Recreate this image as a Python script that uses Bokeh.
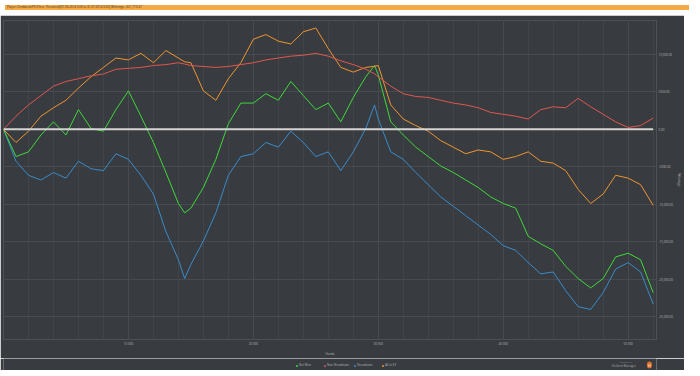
from bokeh.plotting import figure
from bokeh.models import (FixedTicker, Legend, LegendItem, Div, Label, Range1d)
from bokeh.layouts import column
from bokeh.embed import file_html
from bokeh.resources import INLINE

# ---- data (hands, dollars) ----
hands = [0, 1000, 2000, 3000, 4000, 5000, 6000, 7000, 8000, 9000, 10000, 11000, 12000,
         13000, 14000, 14500, 15000, 16000, 17000, 18000, 19000, 20000, 21000, 22000,
         23000, 24000, 25000, 26000, 27000, 28000, 29000, 29700, 30000, 31000, 32000,
         33000, 34000, 35000, 36000, 37000, 38000, 39000, 40000, 41000, 42000, 43000,
         44000, 45000, 46000, 47000, 48000, 49000, 50000, 51000, 52000]

net_won = [0, -3625, -3000, -750, 1000, -750, 2625, 125, -250, 2625, 5125, 1750, -1750,
           -5750, -9875, -11125, -10500, -7750, -4000, 750, 3500, 3500, 4750, 3875,
           6375, 4500, 2625, 3500, 1000, 4250, 7000, 8500, 7250, 1000, -750,
           -2375, -3625, -4875, -5750, -6750, -7750, -9000, -9875, -10500, -14250, -15250,
           -16125, -18250, -19875, -21125, -19875, -17000, -16500, -17375, -21750]

non_showdown = [0, 1750, 3250, 4500, 5750, 6375, 6750, 7125, 7375, 8000, 8125, 8250, 8500,
                8625, 8875, 8700, 8500, 8375, 8250, 8375, 8625, 8875, 9250, 9500,
                9750, 9875, 10125, 9750, 9125, 8625, 8000, 7400, 7000, 5750, 4750,
                4375, 4250, 3875, 3500, 3250, 2875, 2250, 2000, 1750, 1375, 2625,
                3000, 2875, 4125, 3000, 2000, 1000, 250, 500, 1500]

showdown = [0, -4250, -6125, -6750, -5750, -6500, -4250, -5250, -5500, -3250, -4000, -6125, -8625,
            -13625, -17375, -19875, -18000, -14875, -11125, -6125, -3625, -3250, -1750, -2375,
            -250, -1750, -3625, -3000, -5500, -3000, 125, 3250, 1375, -3000, -4000,
            -5750, -7375, -9000, -10250, -11500, -12750, -14000, -15500, -16125, -17750, -19250,
            -19000, -21500, -23625, -24000, -21750, -18625, -17750, -19000, -23250]

allin_ev = [0, -1750, -250, 1750, 2875, 3875, 5500, 7000, 8250, 9500, 9250, 10125, 8875,
            10500, 9500, 9000, 8875, 5125, 3875, 6750, 8875, 12000, 12625, 11750,
            11375, 13000, 13500, 10750, 8250, 7625, 8250, 8400, 8500, 3250, 1375,
            500, -250, -1500, -2375, -3250, -2750, -3000, -4000, -3625, -3000, -4250,
            -4500, -5500, -8000, -9875, -8625, -6125, -6500, -7375, -10125]

y_ticks = [10000, 5000, 0, -5000, -10000, -15000, -20000, -25000]
y_labels = ["10,000.00", "5000.00", "0.00", "-5000.00", "-10,000.00", "-15,000.00",
            "-20,000.00", "-25,000.00"]
x_ticks = [10000, 20000, 30000, 40000, 50000]
x_labels = ["10 000", "20 000", "30 000", "40 000", "50 000"]
x_minor = list(range(0, 54000, 2000))

series_names = ["Net Won", "Non Showdown", "Showdown", "All-in EV"]
title_text = ("Player: Donkbrok(PS)  Filter: Threshold[01.06.2014 0:00 to 01.07.2014 0:00]  "
              "Winnings: -$21,713.37")

BG = "#383b3f"
GRID = "#474b50"
TXT = "#b4b6b8"
FONT = "Open Sans"
FS = "3px"

colors = {"Net Won": "#3fd93a", "Non Showdown": "#e05750",
          "Showdown": "#3a8ccc", "All-in EV": "#f0952f"}

p = figure(width=684, height=343, output_backend="svg", toolbar_location=None,
           x_range=Range1d(0, 52270), y_range=Range1d(-28000, 14500),
           y_axis_location="right",
           background_fill_color=BG, border_fill_color=BG,
           min_border_left=3, min_border_right=5, min_border_top=5, min_border_bottom=14)
p.outline_line_color = "#4d5156"

p.xaxis.ticker = FixedTicker(ticks=x_ticks, minor_ticks=x_minor)
p.yaxis.ticker = FixedTicker(ticks=y_ticks)
p.xaxis.major_label_overrides = {t: l for t, l in zip(x_ticks, x_labels)}
p.yaxis.major_label_overrides = {t: l for t, l in zip(y_ticks, y_labels)}

for ax in (p.xaxis[0], p.yaxis[0]):
    ax.axis_line_color = None
    ax.major_tick_line_color = None
    ax.minor_tick_line_color = None
    ax.major_tick_out = 0
    ax.major_tick_in = 0
    ax.minor_tick_out = 0
    ax.minor_tick_in = 0
    ax.major_label_text_font_size = FS
    ax.major_label_text_color = TXT
    ax.major_label_text_font = FONT
    ax.major_label_standoff = 2
    ax.axis_label_text_font_size = FS
    ax.axis_label_text_color = TXT
    ax.axis_label_text_font = FONT
    ax.axis_label_text_font_style = "normal"
    ax.axis_label_standoff = 3

p.yaxis.major_label_standoff = 2
p.yaxis.axis_label_standoff = 1
p.xaxis.axis_label = "Hands"
p.yaxis.axis_label = "Winnings"

p.xgrid.grid_line_color = GRID
p.xgrid.minor_grid_line_color = "#414549"
p.ygrid.grid_line_color = GRID

r_sd = p.line(hands, showdown, line_color=colors["Showdown"], line_width=1)
r_nw = p.line(hands, net_won, line_color=colors["Net Won"], line_width=1)
r_ev = p.line(hands, allin_ev, line_color=colors["All-in EV"], line_width=1)
r_ns = p.line(hands, non_showdown, line_color=colors["Non Showdown"], line_width=1)
p.line([hands[0], hands[-1]], [0, 0], line_color="#d4d4d4", line_width=2)

# ---- bottom strip: legend + watermark ----
b = figure(width=684, height=12, output_backend="svg", toolbar_location=None,
           x_range=Range1d(0, 684), y_range=Range1d(0, 12),
           background_fill_color=BG, border_fill_color=BG,
           min_border=0, x_axis_type=None, y_axis_type=None)
b.outline_line_color = None
b.xgrid.visible = False
b.ygrid.visible = False

items = []
for name in series_names:
    r = b.scatter([-100], [-100], marker="circle", size=3, fill_color=colors[name],
                  line_color=colors[name])
    items.append(LegendItem(label=name, renderers=[r]))

legend = Legend(items=items, orientation="horizontal", location=(292, 3),
                label_text_font_size=FS, label_text_color=TXT, label_text_font=FONT,
                glyph_width=3, glyph_height=3, label_standoff=1, spacing=4,
                padding=0, margin=0, background_fill_alpha=0, border_line_alpha=0,
                label_height=3, click_policy="none")
b.add_layout(legend, "center")

b.add_layout(Label(x=645, y=7, text="Created by", text_font_size="2.5px",
                   text_color="#8a8c8e", text_font=FONT))
b.add_layout(Label(x=637, y=2.5, text="Holdem Manager", text_font_size=FS,
                   text_color="#a8aaac", text_font=FONT))
b.add_layout(Label(x=674, y=2, text="H", text_font_size="4px", text_color="#ffffff",
                   text_font=FONT, background_fill_color="#e0702a", border_radius=3,
                   padding=1))

bar = Div(text=title_text, width=684, height=5,
          styles={"background-color": "#f4a945", "font-size": FS, "line-height": "5px",
                  "color": "#3a3020", "font-family": FONT, "padding-left": "2px",
                  "overflow": "hidden", "white-space": "nowrap"})

layout = column(bar, p, b, spacing=0)
open("out.html", "w").write(file_html(layout, INLINE))
